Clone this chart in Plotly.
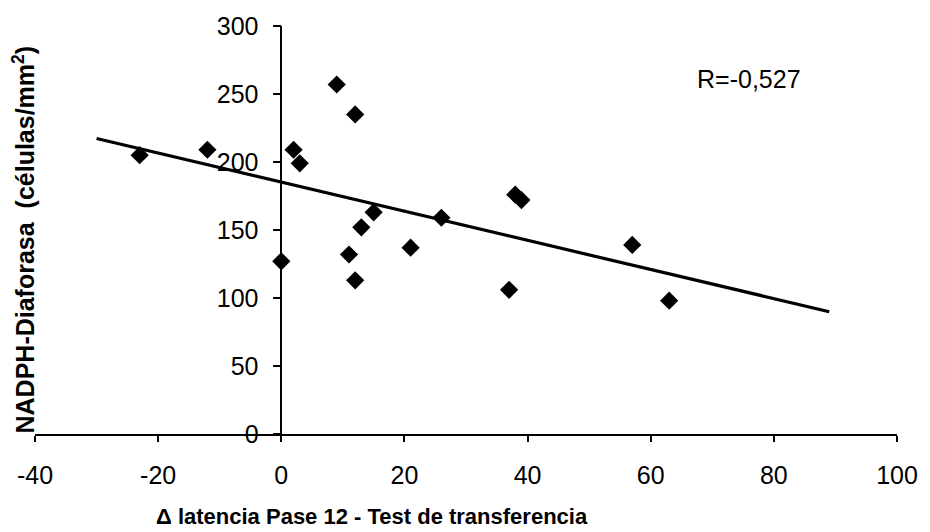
import numpy as np
import plotly.graph_objects as go

# Data
latencia = [-23, -12, 0, 2, 3, 9, 12, 11, 12, 13, 15, 21, 26, 37, 38, 39, 57, 63]
nadph = [205, 209, 127, 209, 199, 257, 235, 132, 113, 152, 163, 137, 159, 106, 176, 172, 139, 98]
trend_range = [-30, 89]
r_label = "R=-0,527"
x_ticks = [-40, -20, 0, 20, 40, 60, 80, 100]
x_ticktext = ["-40", "-20", "0", "20", "40", "60", "80", "100"]
y_ticks = [0, 50, 100, 150, 200, 250, 300]

x = np.array(latencia, dtype=float)
y = np.array(nadph, dtype=float)
slope, intercept = np.polyfit(x, y, 1)
tx = np.array(trend_range, dtype=float)
ty = slope * tx + intercept

font = "Liberation Sans, Arial, sans-serif"
fig = go.Figure()
fig.add_trace(go.Scatter(x=tx, y=ty, mode="lines",
                         line=dict(color="black", width=3.2), showlegend=False))
fig.add_trace(go.Scatter(x=latencia, y=nadph, mode="markers",
                         marker=dict(symbol="diamond", size=14, color="black"),
                         showlegend=False))

L, R, T, B = 35, 24, 21, 98
W, H = 930, 532
pw, ph = W - L - R, H - T - B
xr = [-40, 100]
fig.update_layout(
    width=W, height=H,
    margin=dict(l=L, r=R, t=T, b=B),
    paper_bgcolor="white", plot_bgcolor="white",
    font=dict(family=font, size=25, color="black"),
    xaxis=dict(range=xr, tickvals=x_ticks, ticktext=x_ticktext, showgrid=False, zeroline=False,
               showline=True, linecolor="black", linewidth=1.5,
               ticks="outside", ticklen=6, tickwidth=1.5, tickcolor="black",
               ticklabelstandoff=12, domain=[0, 1]),
    yaxis=dict(range=[0, 300], tickvals=y_ticks, showgrid=False, zeroline=False,
               showline=True, linecolor="black", linewidth=1.5,
               ticks="outside", ticklen=8, tickwidth=1.5, tickcolor="black",
               anchor="free", position=(0 - xr[0]) / (xr[1] - xr[0]),
               ticklabelstandoff=9),
)
fig.add_annotation(text="<b>Δ latencia Pase 12 - Test de transferencia</b>",
                   xref="paper", yref="paper", x=(376 - L) / pw, y=-(518 - (H - B)) / ph,
                   showarrow=False, font=dict(size=22), xanchor="center", yanchor="middle")
fig.add_annotation(text="<b>NADPH-Diaforasa&nbsp; (células/mm<sup>2</sup>)</b>",
                   xref="paper", yref="paper", x=-(L - 24) / pw, y=((H - B) - 237) / ph,
                   textangle=-90, showarrow=False, font=dict(size=25),
                   xanchor="center", yanchor="middle")
fig.add_annotation(text=r_label,
                   xref="paper", yref="paper", x=(756 - L) / pw, y=((H - B) - 75) / ph,
                   showarrow=False, font=dict(size=25), xanchor="center", yanchor="middle")

fig.write_html("out.html")
